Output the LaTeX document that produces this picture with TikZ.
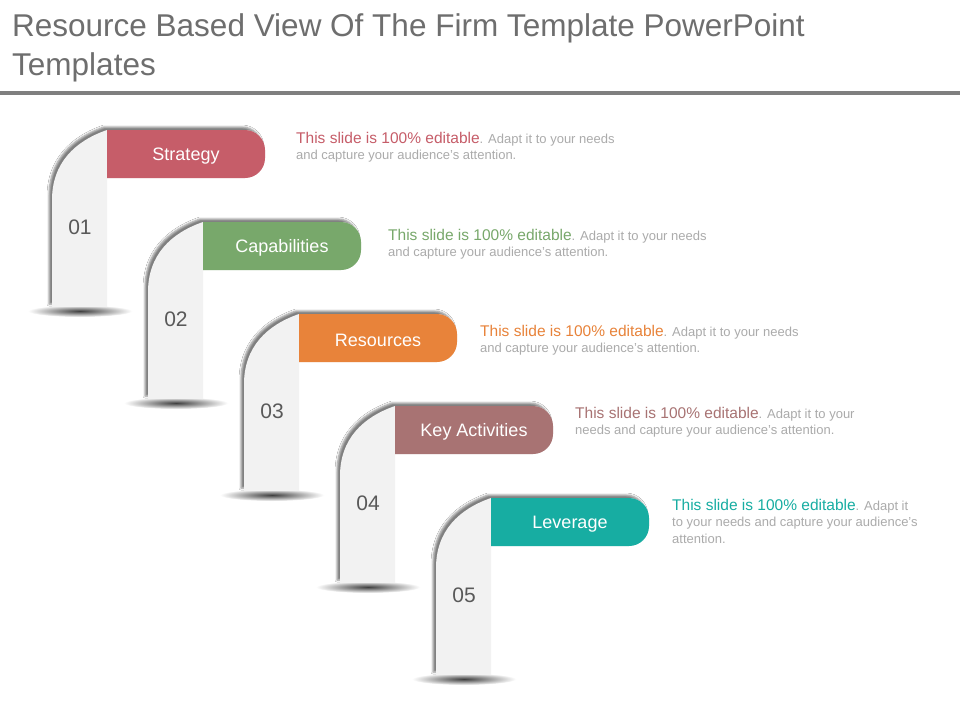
\documentclass[tikz,border=0pt]{standalone}
\usepackage{fontspec}
\setmainfont{Liberation Sans}
\usetikzlibrary{shadows.blur}

\definecolor{titlegray}{HTML}{6E6E6E}
\definecolor{rulegray}{HTML}{7F7F7F}
\definecolor{stemgray}{HTML}{F2F2F2}
\definecolor{numgray}{HTML}{595959}
\definecolor{notegray}{HTML}{ABABAB}
\definecolor{strategyred}{HTML}{C65D69}
\definecolor{capgreen}{HTML}{78A86B}
\definecolor{resorange}{HTML}{E8833A}
\definecolor{keymauve}{HTML}{A87373}
\definecolor{levteal}{HTML}{17ADA2}

\begin{document}
\begin{tikzpicture}[x=1pt, y=-1pt,
	stem/.style = {fill=stemgray, blur shadow={shadow xshift=-3pt, shadow yshift=3pt, shadow blur radius=2pt, shadow opacity=50}},
	label/.style = {text=white, font=\fontsize{18}{20}\selectfont},
	number/.style = {text=numgray, font=\fontsize{21}{24}\selectfont},
	note/.style = {anchor=west, align=left, inner sep=0pt, text=notegray, font=\fontsize{13}{16.5}\selectfont}]
	\useasboundingbox (0,0) rectangle (960,720);
	\fill[white] (0,0) rectangle (960,720);

	% title
	\node[anchor=base west, inner sep=0pt, text=titlegray, font=\fontsize{31.5}{36}\selectfont] (title) at (12,36) {Resource Based View Of The Firm Template PowerPoint};
	\node[anchor=base west, inner sep=0pt, text=titlegray, font=\fontsize{31.5}{36}\selectfont] (title2) at (12,75) {Templates};
	\fill[rulegray] (0,91) rectangle (960,95);

	% steps
	\foreach \i/\name/\col/\tx/\ty/\rest in {
		0/Strategy/strategyred/296/147/{Adapt it to your needs\\and capture your audience's attention.},
		1/Capabilities/capgreen/388/244/{Adapt it to your needs\\and capture your audience's attention.},
		2/Resources/resorange/480/340/{Adapt it to your needs\\and capture your audience's attention.},
		3/Key Activities/keymauve/575/422/{Adapt it to your\\needs and capture your audience's attention.},
		4/Leverage/levteal/672/521/{Adapt it\\to your needs and capture your audience's\\attention.}} {
		\pgfmathsetmacro\L{52+96*\i}
		\pgfmathsetmacro\R{\L+55}
		\pgfmathsetmacro\X{\R+158}
		\pgfmathsetmacro\T{130+92*\i}
		\pgfmathsetmacro\B{\T+177}
		\pgfmathsetmacro\C{\T+70}
		\shade[inner color=black!75, outer color=white] (\L+28,\B+4) ellipse (52 and 6);
		\path[stem] (\L,\B) -- (\L,\C) .. controls (\L,\C-37) and (\L+23,\T+11) .. (\R,\T)
			[rounded corners=20] -- (\X,\T) -- (\X,\T+48) [sharp corners] -- (\R,\T+48) -- (\R,\B) -- cycle;
		\fill[\col] (\R,\T) [rounded corners=20] -- (\X,\T) -- (\X,\T+48) [sharp corners] -- (\R,\T+48) -- cycle;
		\node[label] (tab\i) at ({(\R+\X)/2},\T+26) {\name};
		\node[number] (num\i) at (\L+28,\T+97) {0\the\numexpr\i+1\relax};
		\node[note] (txt\i) at (\tx,\ty) {{\fontsize{15.5}{16.5}\selectfont\color{\col}This slide is 100\% editable}. \rest};
	}
\end{tikzpicture}
\end{document}
